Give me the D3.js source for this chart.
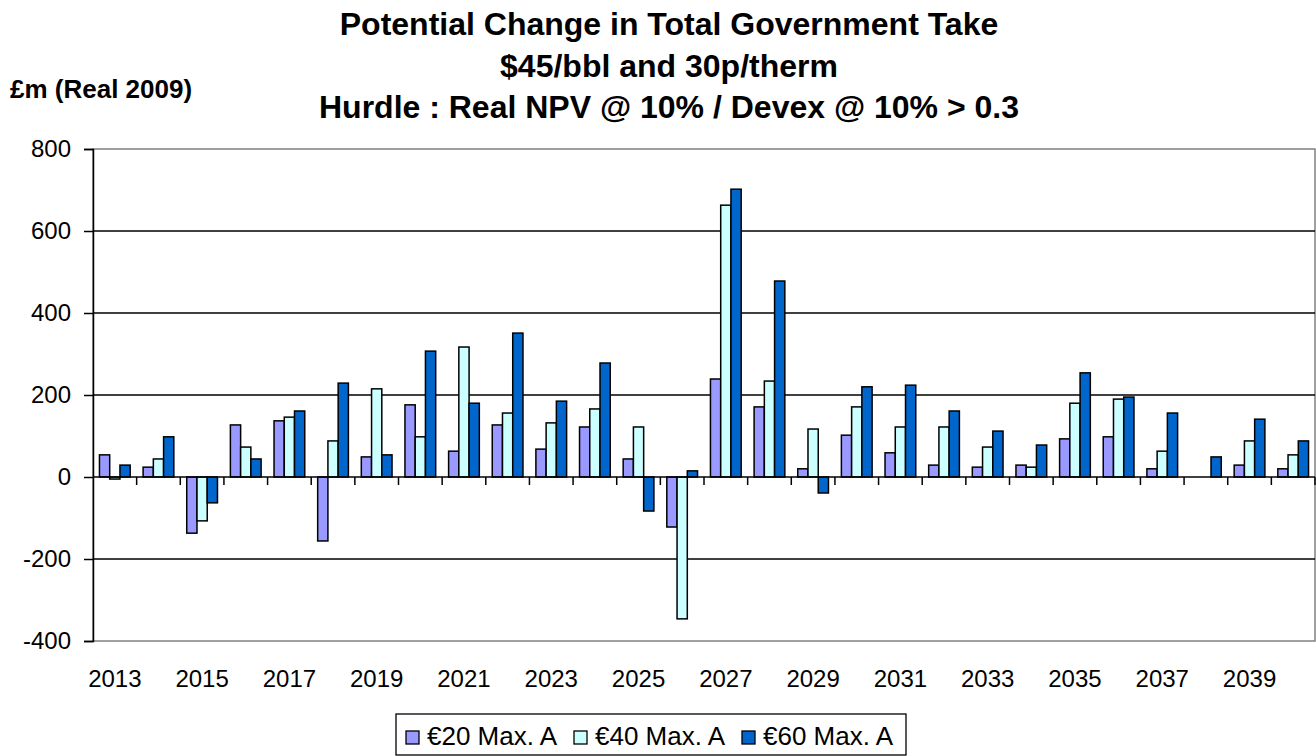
<!DOCTYPE html>
<html>
<head>
<meta charset="utf-8">
<script src="https://cdn.jsdelivr.net/npm/d3@7"></script>
<style>
  html, body { margin: 0; padding: 0; background: #fff; }
  svg { display: block; }
  text { font-family: "Liberation Sans", Arial, sans-serif; fill: #000; }
</style>
</head>
<body>
<svg id="chart" width="1316" height="756"></svg>
<script>
// ---- Data ----
const years = [2013, 2014, 2015, 2016, 2017, 2018, 2019, 2020, 2021, 2022, 2023, 2024, 2025, 2026,
               2027, 2028, 2029, 2030, 2031, 2032, 2033, 2034, 2035, 2036, 2037, 2038, 2039, 2040];
const seriesNames = ["€20 Max. A", "€40 Max. A", "€60 Max. A"];
const eur20 = [54, 24, -137, 127, 137, -156, 49, 176, 63, 127, 68, 122, 44, -122,
               239, 171, 20, 102, 59, 29, 24, 29, 93, 98, 20, 0, 29, 20];
const eur40 = [-5, 44, -107, 73, 146, 88, 215, 98, 317, 156, 132, 166, 122, -346,
               663, 234, 117, 171, 122, 122, 73, 24, 180, 190, 63, 0, 88, 54];
const eur60 = [29, 98, -63, 44, 161, 229, 54, 307, 180, 351, 185, 278, -83, 15,
               702, 478, -39, 220, 224, 161, 112, 78, 254, 195, 156, 49, 141, 88];
const yTicks = [-400, -200, 0, 200, 400, 600, 800];
const xLabelYears = [2013, 2015, 2017, 2019, 2021, 2023, 2025, 2027, 2029, 2031, 2033, 2035, 2037, 2039];
const titleLines = ["Potential Change in Total Government Take",
                    "$45/bbl and 30p/therm",
                    "Hurdle : Real NPV @ 10% /  Devex @ 10% > 0.3"];
const unitLabel = "£m (Real 2009)";
const colors = ["#9999FF", "#CCFFFF", "#0066CC"];

const seriesValues = [eur20, eur40, eur60];

// ---- Layout ----
const svg = d3.select("#chart");
const plot = { left: 93, right: 1315, top: 149, bottom: 641 };

const x = d3.scaleBand().domain(years).range([plot.left, plot.right]).padding(0);
const bw = x.bandwidth();
const xInner = d3.scaleBand().domain(d3.range(seriesNames.length))
  .range([bw * 0.148, bw * 0.852]).padding(0);
const y = d3.scaleLinear().domain([-400, 800]).range([plot.bottom, plot.top]);

// plot border (grey)
svg.append("rect")
  .attr("x", plot.left).attr("y", plot.top)
  .attr("width", plot.right - plot.left).attr("height", plot.bottom - plot.top)
  .attr("fill", "none").attr("stroke", "#808080").attr("stroke-width", 1.5);

// gridlines
svg.append("g").selectAll("line")
  .data(yTicks.filter(d => d !== 0 && d !== 800 && d !== -400))
  .join("line")
  .attr("x1", plot.left).attr("x2", plot.right)
  .attr("y1", d => y(d)).attr("y2", d => y(d))
  .attr("stroke", "#000").attr("stroke-width", 1.4);

// bars
const rows = years.map((yr, i) => ({ year: yr, vals: seriesValues.map(s => s[i]) }));
const groups = svg.append("g").selectAll("g")
  .data(rows).join("g")
  .attr("transform", d => `translate(${x(d.year)},0)`);
groups.selectAll("rect")
  .data(d => d.vals.map((v, k) => ({ v, k })).filter(o => o.v !== 0))
  .join("rect")
  .attr("x", o => xInner(o.k))
  .attr("width", xInner.bandwidth())
  .attr("y", o => y(Math.max(0, o.v)))
  .attr("height", o => Math.abs(y(o.v) - y(0)))
  .attr("fill", o => colors[o.k])
  .attr("stroke", "#000").attr("stroke-width", 1.5);

// y axis
const yAxis = svg.append("g")
  .attr("transform", `translate(${plot.left},0)`)
  .call(d3.axisLeft(y).tickValues(yTicks).tickSize(9).tickPadding(13).tickFormat(d => String(d)));
yAxis.select(".domain").attr("stroke", "#000").attr("stroke-width", 1.5);
yAxis.selectAll(".tick line").attr("stroke", "#000").attr("stroke-width", 1.5);
yAxis.selectAll("text").attr("font-size", 24).attr("font-family", "Liberation Sans, Arial, sans-serif").attr("fill", "#000");

// zero axis line with boundary ticks
svg.append("line")
  .attr("x1", plot.left).attr("x2", plot.right)
  .attr("y1", y(0)).attr("y2", y(0))
  .attr("stroke", "#000").attr("stroke-width", 1.5);
const boundaries = years.map(yr => x(yr)).concat([x(years[years.length - 1]) + bw]).slice(1);
svg.append("g").selectAll("line")
  .data(boundaries).join("line")
  .attr("x1", d => d).attr("x2", d => d)
  .attr("y1", y(0)).attr("y2", y(0) + 8)
  .attr("stroke", "#000").attr("stroke-width", 1.5);

// x labels
const xAxis = svg.append("g")
  .attr("transform", `translate(0,${plot.bottom})`)
  .call(d3.axisBottom(x).tickValues(xLabelYears).tickSize(0).tickPadding(29));
xAxis.select(".domain").remove();
xAxis.selectAll("text").attr("font-size", 24).attr("font-family", "Liberation Sans, Arial, sans-serif").attr("fill", "#000");

// title
svg.append("g").selectAll("text")
  .data(titleLines).join("text")
  .attr("x", 669).attr("y", (d, i) => [35, 76.5, 118][i])
  .attr("text-anchor", "middle")
  .attr("font-size", 32).attr("font-weight", "bold")
  .text(d => d);

svg.append("text")
  .attr("x", 10).attr("y", 98)
  .attr("font-size", 26).attr("font-weight", "bold")
  .text(unitLabel);

// legend
const legend = svg.append("g");
legend.append("rect")
  .attr("x", 396).attr("y", 714).attr("width", 510).attr("height", 41)
  .attr("fill", "#fff").attr("stroke", "#000").attr("stroke-width", 1.3);
const legendX = [406, 574, 742];
const items = legend.selectAll("g.item").data(seriesNames).join("g").attr("class", "item")
  .attr("transform", (d, i) => `translate(${legendX[i]},0)`);
items.append("rect")
  .attr("x", 0).attr("y", 731).attr("width", 13).attr("height", 13)
  .attr("fill", (d, i) => colors[i]).attr("stroke", "#000").attr("stroke-width", 1.3);
items.append("text")
  .attr("x", 21).attr("y", 745)
  .attr("font-size", 26)
  .text(d => d);
</script>
</body>
</html>
